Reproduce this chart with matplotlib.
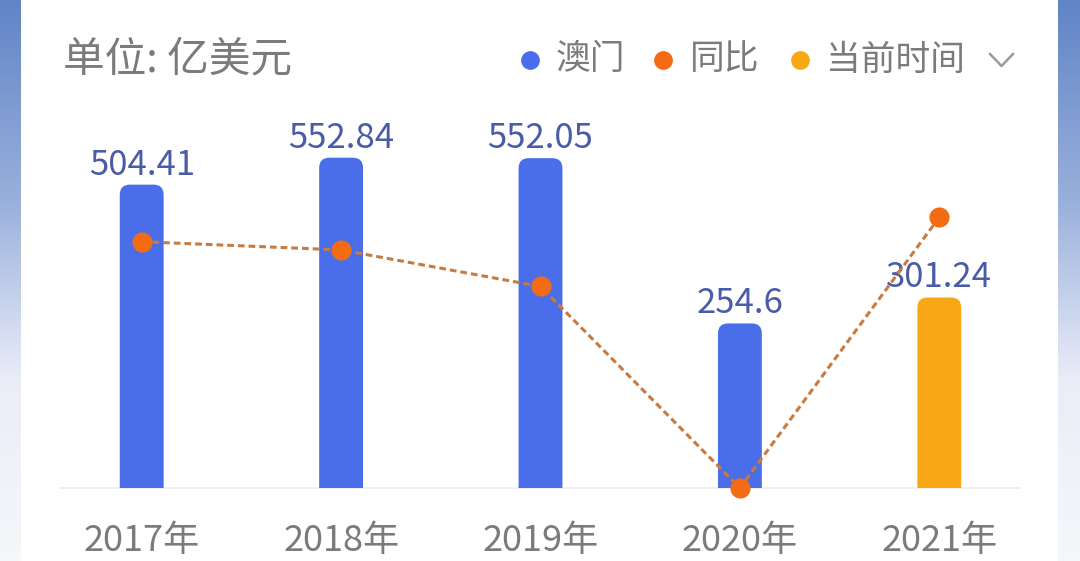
import matplotlib
matplotlib.use('Agg')
import matplotlib.pyplot as plt
from matplotlib.patches import FancyBboxPatch
from matplotlib.lines import Line2D
import numpy as np

plt.rcParams['font.family'] = ['Noto Sans CJK SC', 'DejaVu Sans']

# data
years = ['2017年', '2018年', '2019年', '2020年', '2021年']
macau = [504.41, 552.84, 552.05, 254.6, 301.24]
value_labels = ['504.41', '552.84', '552.05', '254.6', '301.24']
yoy = [11.8, 9.6, -0.14, -53.88, 18.32]
is_current = [False, False, False, False, True]

blue = '#4a6ee9'
yellow = '#f8a814'
orange = '#f36b12'
line_col = '#c97a3e'
grey_text = '#7b7b7b'
label_col = '#4a5ca8'

W, H = 1080, 561
fig = plt.figure(figsize=(W / 100, H / 100), dpi=100)

# background: white card with bluish gradient strips on both sides
bg = fig.add_axes([0, 0, 1, 1], zorder=-5)
bg.set_xlim(0, W)
bg.set_ylim(H, 0)
bg.axis('off')
stops_y = [0, 200, 380, 561]
stops_c = np.array([[0.38, 0.52, 0.78], [0.60, 0.69, 0.86],
                    [0.92, 0.93, 0.97], [0.96, 0.97, 0.98]])
yy = np.arange(H)
grad = np.stack([np.interp(yy, stops_y, stops_c[:, k]) for k in range(3)], axis=1)
grad = grad[:, None, :]
bg.imshow(grad, extent=[0, 21, H, 0], aspect='auto')
bg.imshow(grad, extent=[1058, W, H, 0], aspect='auto')

# main axes, pixel layout
left_px, right_px, top_px, base_px = 42, 1039, 110, 488
ax = fig.add_axes([left_px / W, (H - base_px) / H,
                   (right_px - left_px) / W, (base_px - top_px) / H])
ax.patch.set_alpha(0)
y_min = -41.6
px_per_unit = 0.5556
y_max = y_min + (base_px - top_px) / px_per_unit
ax.set_xlim(-0.5, 4.5)
ax.set_ylim(y_min, y_max)
for s in ax.spines.values():
    s.set_visible(False)
ax.set_yticks([])

x = np.arange(len(years))
ax.set_xticks(x)
ax.set_xticklabels(years, fontsize=26, color=grey_text)
ax.tick_params(axis='x', length=0, pad=25)

# baseline
ax.axhline(y_min, xmin=(60 - left_px) / (right_px - left_px),
           xmax=(1020 - left_px) / (right_px - left_px),
           color='#eeeeee', lw=1.2, clip_on=False, zorder=0.5)

# bars with rounded tops
width = 0.22
colors = [yellow if c else blue for c in is_current]
bars = ax.bar(x, [v - (y_min - 60) for v in macau], width,
              bottom=y_min - 60, color=colors)
x_unit_per_px = 5 / (right_px - left_px)
aspect = (1 / px_per_unit) / x_unit_per_px
for rect, c in zip(bars, colors):
    rect.set_visible(False)
    p = FancyBboxPatch((rect.get_x(), rect.get_y()), rect.get_width(), rect.get_height(),
                       boxstyle='round,pad=0,rounding_size=%f' % (10 * x_unit_per_px),
                       mutation_aspect=aspect, fc=c, ec='none', zorder=2)
    ax.add_patch(p)

for xi, v, lab in zip(x, macau, value_labels):
    ax.annotate(lab, (xi, v), xytext=(0, 1.5), textcoords='offset points',
                ha='center', va='bottom', fontsize=25, color=label_col, zorder=5)

# yoy line on twin axis
ax2 = ax.twinx()
ax2.patch.set_alpha(0)
ax2.set_ylim(-53.88, -53.88 + (base_px - top_px) / 3.75)
ax2.axis('off')
ax2.plot(x, yoy, color=line_col, lw=2.2, linestyle=(0, (2.2, 1.3)), zorder=3)
ax2.plot(x, yoy, linestyle='none', marker='o', ms=14.5, mfc=orange,
         mec='none', clip_on=False, zorder=4)

# title
fig.text(63 / W, 1 - 60 / H, '单位: 亿美元', fontsize=30, color=grey_text,
         ha='left', va='center')

# legend
leg_items = [(530, 556, '澳门', blue), (663, 690, '同比', orange),
             (800, 826, '当前时间', yellow)]
for dot_x, txt_x, txt, c in leg_items:
    fig.add_artist(Line2D([dot_x / W], [1 - 60 / H], marker='o', ms=13.5,
                          mfc=c, mec='none', linestyle='none',
                          transform=fig.transFigure))
    fig.text(txt_x / W, 1 - 60 / H, txt, fontsize=25, color=grey_text,
             ha='left', va='center')
fig.add_artist(Line2D([990 / W, 1001.5 / W, 1013 / W],
                      [1 - 54 / H, 1 - 66 / H, 1 - 54 / H],
                      color='#9a9a9a', lw=1.8, transform=fig.transFigure))

fig.savefig('out.png', dpi=100)
